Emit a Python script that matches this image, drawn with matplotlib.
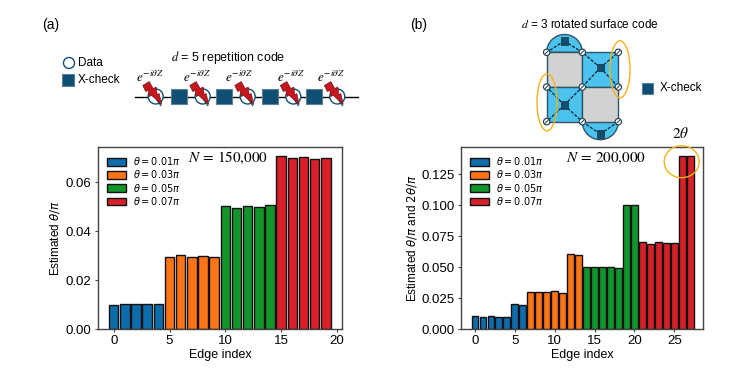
import numpy as np
import matplotlib
matplotlib.use('Agg')
import matplotlib.pyplot as plt
from matplotlib.patches import Circle, Rectangle, Ellipse, Polygon, Wedge

plt.rcParams['font.family'] = ['Liberation Sans', 'DejaVu Sans']
plt.rcParams['mathtext.fontset'] = 'dejavusans'

# values
theta_labels = [r'$\theta = 0.01\pi$', r'$\theta = 0.03\pi$', r'$\theta = 0.05\pi$', r'$\theta = 0.07\pi$']
colors = ['#0f6cab', '#ff7417', '#12952b', '#d9202a']

rep_blue = [0.0100, 0.0101, 0.0103, 0.0102, 0.0103]
rep_orange = [0.0294, 0.0304, 0.0295, 0.0300, 0.0293]
rep_green = [0.0505, 0.0495, 0.0504, 0.0501, 0.0508]
rep_red = [0.0707, 0.0701, 0.0705, 0.0695, 0.0698]

surf_blue = [0.0102, 0.0099, 0.0102, 0.0097, 0.0095, 0.0205, 0.0197]
surf_orange = [0.0298, 0.0300, 0.0296, 0.0305, 0.0295, 0.0603, 0.0597]
surf_green = [0.0498, 0.0505, 0.0505, 0.0500, 0.0497, 0.1000, 0.1000]
surf_red = [0.0702, 0.0688, 0.0700, 0.0692, 0.0698, 0.1400, 0.1400]

W, H = 749, 369
TEAL = '#0f4f73'
GOLD = '#f5b21a'
fig = plt.figure(figsize=(W / 100, H / 100), dpi=100)


def px_axes(l, t, r, b):
    return fig.add_axes([l / W, 1 - b / H, (r - l) / W, (b - t) / H])


def bars(ax, groups):
    i = 0
    for vals, c, lab in zip(groups, colors, theta_labels):
        x = np.arange(i, i + len(vals))
        ax.bar(x, vals, width=0.85, color=c, edgecolor='#111111', linewidth=1.0, label=lab)
        i += len(vals)
    ax.set_xlabel('Edge index', fontsize=9, labelpad=1.5)
    ax.tick_params(labelsize=9.5, length=2.5, pad=2, color='#444444')
    for s in ax.spines.values():
        s.set_color('#444444')
        s.set_linewidth(1.0)
    ax.legend(loc='upper left', frameon=False, fontsize=7, handlelength=2.0, handleheight=0.8,
              handletextpad=0.7, labelspacing=0.12, borderaxespad=0, borderpad=0,
              bbox_to_anchor=(0.036, 0.955))


ax1 = px_axes(98, 147, 342, 329)
bars(ax1, [rep_blue, rep_orange, rep_green, rep_red])
ax1.set_xlim(-1.41, 20.45)
ax1.set_ylim(0, 0.0745)
ax1.set_xticks([0, 5, 10, 15, 20])
ax1.set_yticks([0, 0.02, 0.04, 0.06])
ax1.set_yticklabels(['0.00', '0.02', '0.04', '0.06'])
ax1.set_ylabel(r'Estimated $\theta/\pi$', fontsize=8.5)
ax1.yaxis.set_label_coords(-0.148, 0.5)

ax2 = px_axes(461, 147, 703, 329)
bars(ax2, [surf_blue, surf_orange, surf_green, surf_red])
ax2.set_xlim(-1.75, 28.6)
ax2.set_ylim(0, 0.1472)
ax2.set_xticks([0, 5, 10, 15, 20, 25])
ax2.set_yticks([0, 0.025, 0.05, 0.075, 0.1, 0.125])
ax2.set_yticklabels(['0.000', '0.025', '0.050', '0.075', '0.100', '0.125'])
ax2.set_ylabel(r'Estimated $\theta/\pi$ and $2\theta/\pi$', fontsize=8.5)
ax2.yaxis.set_label_coords(-0.174, 0.5)

# overlay in pixel coordinates for the schematics
ov = fig.add_axes([0, 0, 1, 1], zorder=5)
ov.set_xlim(0, W)
ov.set_ylim(H, 0)
ov.axis('off')
ov.patch.set_alpha(0)

ov.text(42, 25, '(a)', fontsize=10, ha='left', va='center')
ov.text(410, 25, '(b)', fontsize=10, ha='left', va='center')
ov.text(228, 57, r'$d$ = 5 repetition code', fontsize=9, ha='center', va='center',
        math_fontfamily='stix')
ov.text(590, 25, r'$d$ = 3 rotated surface code', fontsize=8.5, ha='center', va='center',
        math_fontfamily='stix')
ov.text(228, 158, r'$N\,=\,150{,}000$', fontsize=11, ha='center', va='center', math_fontfamily='stix')
ov.text(606, 158, r'$N\,=\,200{,}000$', fontsize=11, ha='center', va='center', math_fontfamily='stix')
ov.text(681, 134, r'$2\theta$', fontsize=11, ha='center', va='center', math_fontfamily='stix')

# legend of panel (a)
ov.add_patch(Circle((69, 63), 5.5, fc='white', ec=TEAL, lw=1.0))
ov.text(78, 63, 'Data', fontsize=8.5, va='center')
ov.add_patch(Rectangle((62, 74), 12, 12, fc=TEAL, ec='#5b7f95', lw=0.8))
ov.text(78, 80, 'X-check', fontsize=8.5, va='center')

# repetition code chain
data_x = [155.7, 202.7, 247.7, 293.3, 337.3]
check_x = [179, 224, 270, 314]
chain_y = 96.5
ov.plot([135, 358], [chain_y, chain_y], color='black', lw=1.0, zorder=1)
bolt = np.array([(-13, -11), (-6.5, -15), (-2.5, -8), (0.5, -9.5), (1.5, -2), (3.5, -3), (6, 8),
                 (-4, -1), (-6.5, 0), (-7.5, -6), (-10, -5)])
exp_x = [150, 197, 239, 291, 331]
for x, ex in zip(data_x, exp_x):
    ov.add_patch(Circle((x, chain_y), 7.5, fc='white', ec=TEAL, lw=1.0, zorder=2))
    ov.plot([x - 7, x + 5], [chain_y - 9, chain_y + 9], color=TEAL, lw=0.9, zorder=3)
    ov.add_patch(Polygon(bolt + [x, chain_y], closed=True, fc='#c4161c', ec='#5a1015', lw=0.4, zorder=4))
    ov.text(ex, 77, r'$e^{-i\theta Z}$', fontsize=9.5, ha='center', va='center', math_fontfamily='stix')
for x in check_x:
    ov.add_patch(Rectangle((x - 7.7, chain_y - 7.5), 15.4, 15, fc=TEAL, ec='#5b7f95', lw=0.8, zorder=2))

# surface code patch
gx = [546.7, 582.3, 618.3]
gy = [52.3, 87, 121.7]
BLUE = '#4bc3ee'
GRAY = '#d2d2d2'
EDGE = '#2f5468'
ov.add_patch(Wedge(((gx[0] + gx[1]) / 2, gy[0]), (gx[1] - gx[0]) / 2, 180, 360, fc=BLUE, ec=EDGE, lw=1.0))
ov.add_patch(Wedge(((gx[1] + gx[2]) / 2, gy[2]), (gx[2] - gx[1]) / 2, 0, 180, fc=BLUE, ec=EDGE, lw=1.0))
tiles = [(0, 0, GRAY), (1, 0, BLUE), (0, 1, BLUE), (1, 1, GRAY)]
for i, j, c in tiles:
    ov.add_patch(Rectangle((gx[i], gy[j]), gx[i + 1] - gx[i], gy[j + 1] - gy[j], fc=c, ec=EDGE, lw=1.0))

checks = [(564.3, 41), (600.3, 67.7), (564.3, 105), (600.3, 134)]
links = [[(0, 0), (1, 0)], [(1, 0), (2, 0), (1, 1), (2, 1)], [(0, 1), (1, 1), (0, 2), (1, 2)], [(1, 2), (2, 2)]]
for (cx, cy), nb in zip(checks, links):
    for i, j in nb:
        ov.plot([cx, gx[i]], [cy, gy[j]], color='#10222c', lw=0.9, ls=(0, (2.5, 1.2)), zorder=3)
    ov.add_patch(Rectangle((cx - 3.7, cy - 3.7), 7.4, 7.4, fc=TEAL, ec='#223c4c', lw=0.6, zorder=4))
for x in gx:
    for y in gy:
        ov.add_patch(Circle((x, y), 3.2, fc='white', ec='#1d3a4a', lw=0.8, zorder=5))
        ov.plot([x - 1.6, x + 1.6], [y + 1.6, y - 1.6], color='#1d3a4a', lw=0.7, zorder=6)

ov.add_patch(Ellipse((620, 69.3), 20, 57, fc='none', ec=GOLD, lw=1.0, zorder=7))
ov.add_patch(Ellipse((547, 102.3), 20, 57, fc='none', ec=GOLD, lw=1.0, zorder=7))
ov.add_patch(Ellipse((681.7, 161.7), 35, 32, fc='none', ec=GOLD, lw=1.0, zorder=7))

ov.add_patch(Rectangle((642, 82.5), 11, 11, fc=TEAL, ec='#5b7f95', lw=0.8))
ov.text(660, 88, 'X-check', fontsize=8.5, va='center')

plt.savefig('out.png', dpi=100)
